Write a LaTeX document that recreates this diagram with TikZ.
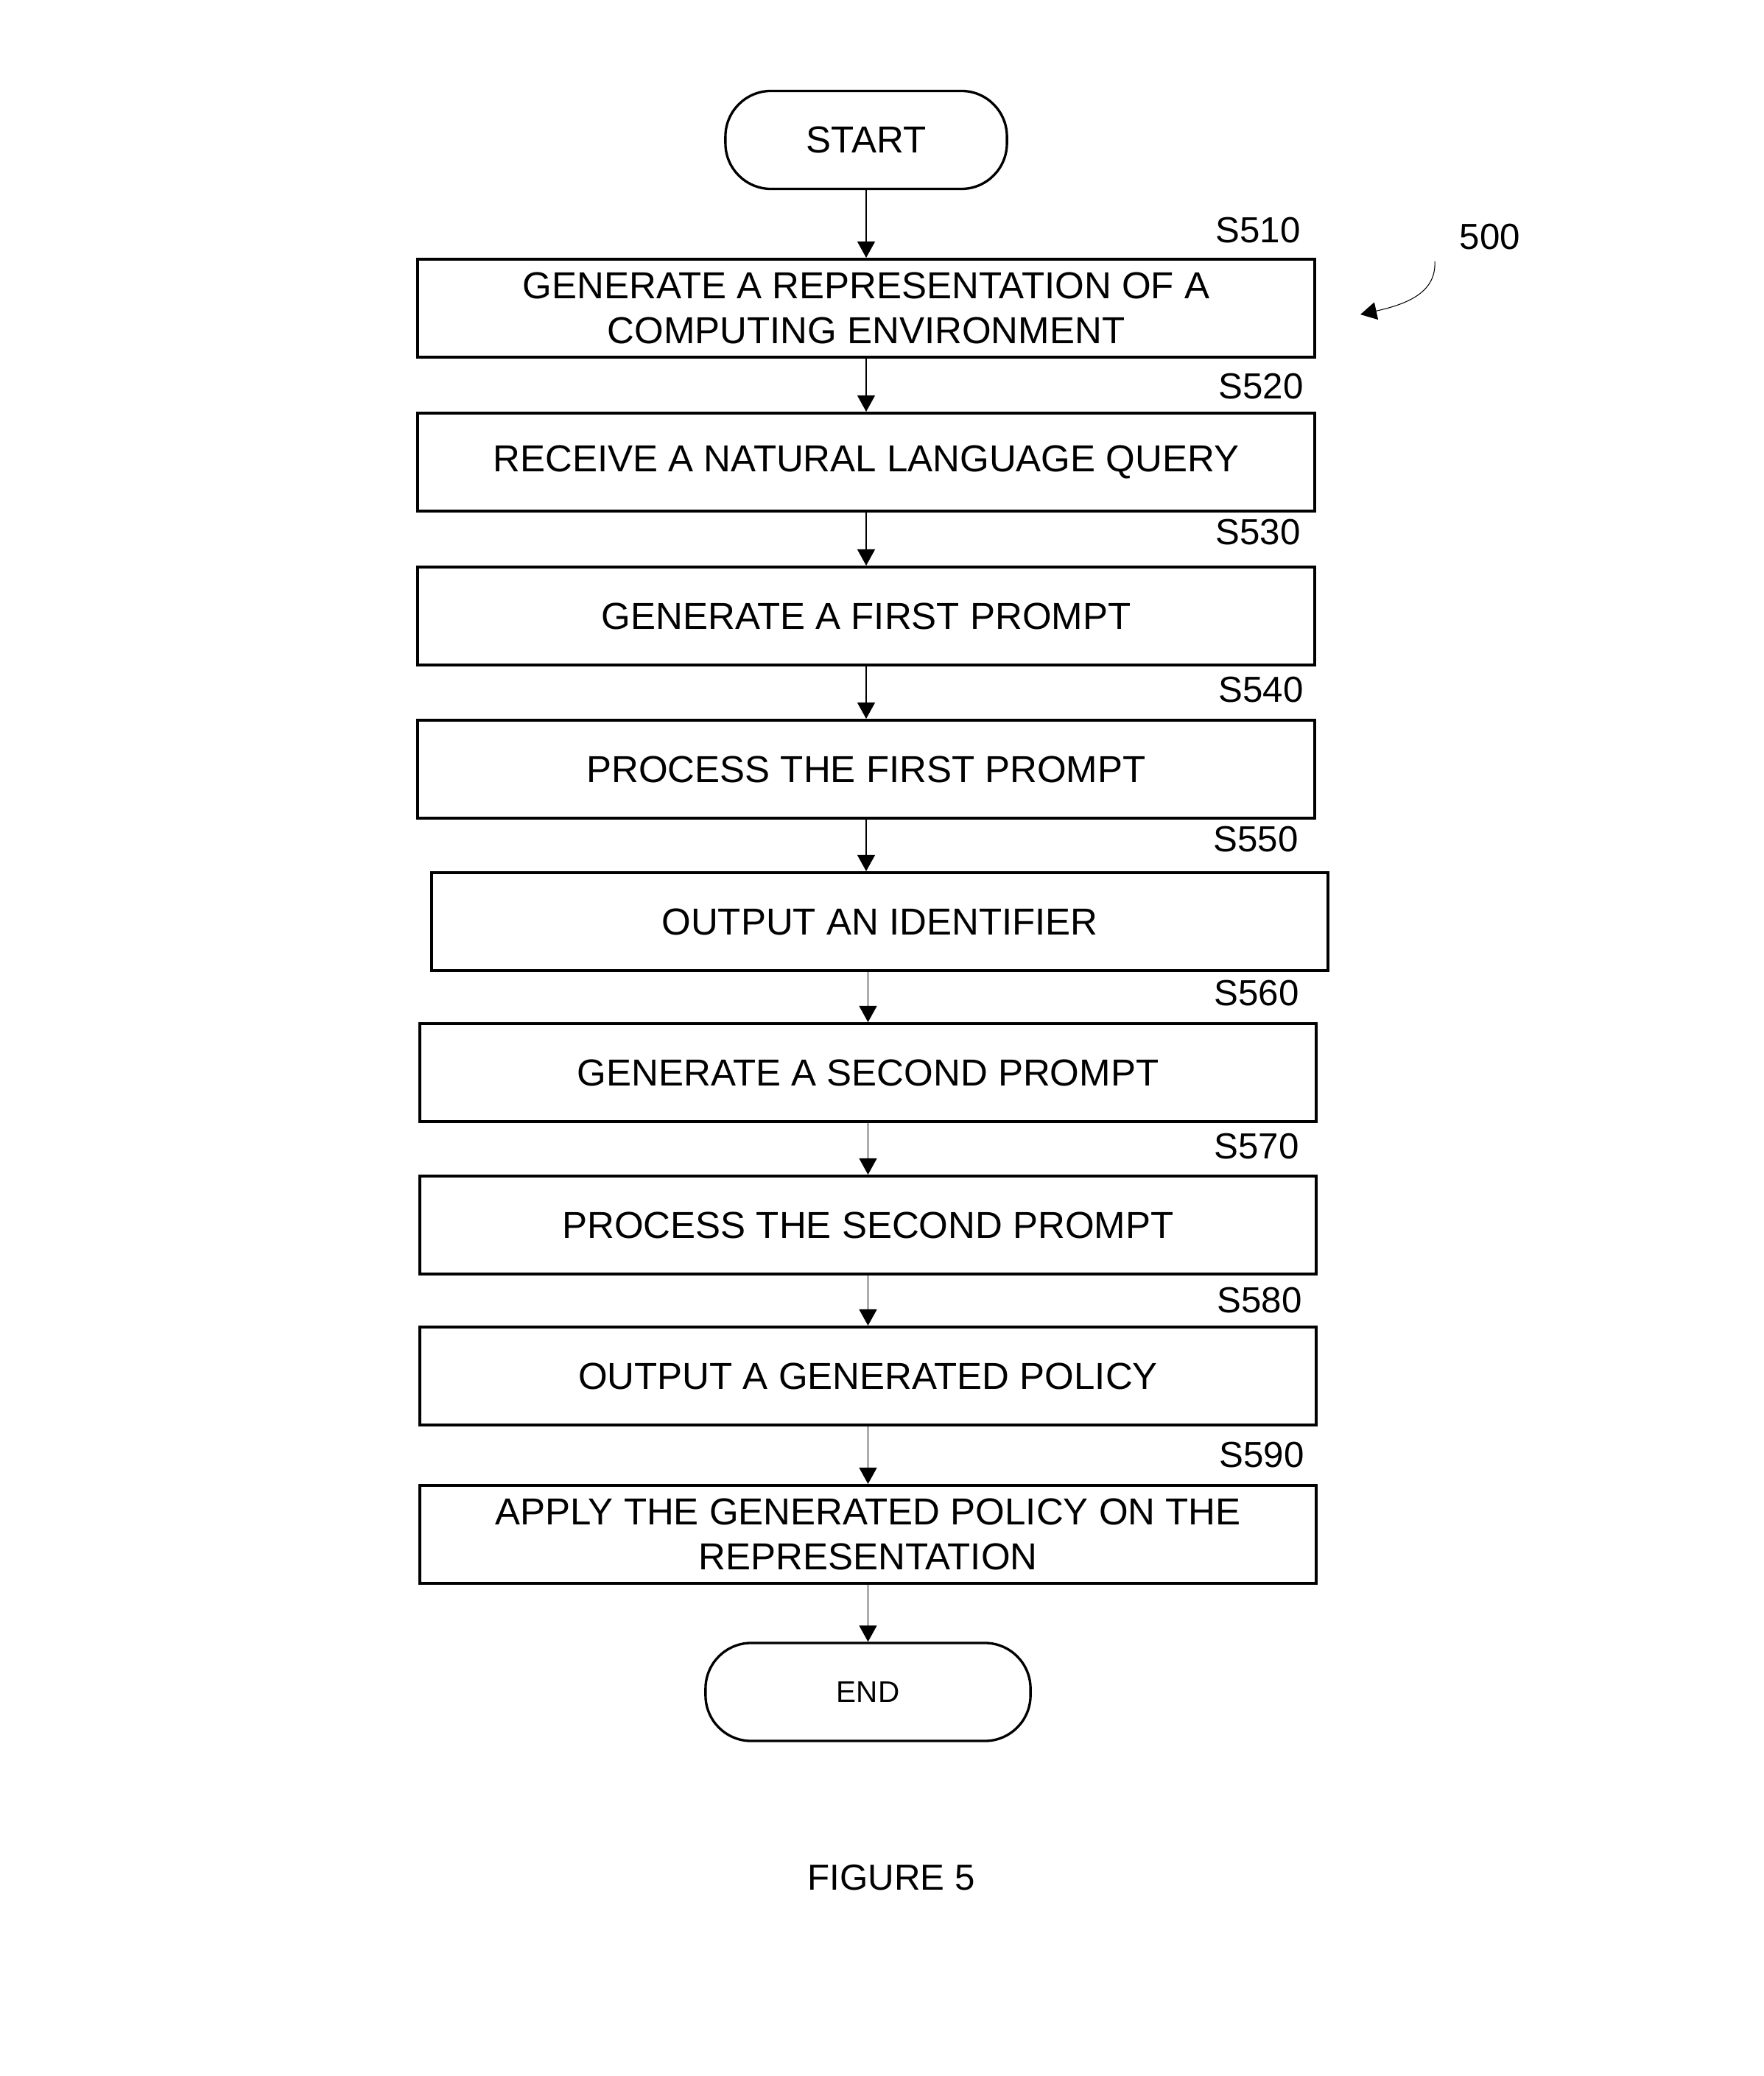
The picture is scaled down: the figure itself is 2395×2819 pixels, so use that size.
\documentclass[tikz,border=0pt]{standalone}
\usepackage{fontspec}
\setmainfont{Liberation Sans}
\usetikzlibrary{arrows.meta}
\begin{document}
\begin{tikzpicture}[x=0.01cm,y=-0.01cm,
  stepbox/.style={draw,line width=1.13pt,minimum width=12.17cm,minimum height=1.33cm,inner sep=0pt,align=center,font=\fontsize{14.5}{17.5}\selectfont},
  term/.style={draw,line width=0.95pt,rounded corners=0.62cm,minimum height=1.33cm,inner sep=0pt,font=\fontsize{14.5}{17}\selectfont},
  lbl/.style={inner sep=0pt,font=\fontsize{14}{17}\selectfont},
  arr/.style={line width=0.3pt,-{Triangle[length=0.22cm,width=0.24cm]}}]
\useasboundingbox (0,0) rectangle (2395,2819);
\node[term,minimum width=3.82cm] (start) at (1176,190) {START};
\node[stepbox] (b510) at (1176,418.5) {GENERATE A REPRESENTATION OF A\\COMPUTING ENVIRONMENT};
\node[stepbox] (b520) at (1176,627.5) {RECEIVE A NATURAL LANGUAGE QUERY};
\node[stepbox] (b530) at (1176,836.5) {GENERATE A FIRST PROMPT};
\node[stepbox] (b540) at (1176,1044.5) {PROCESS THE FIRST PROMPT};
\node[stepbox] (b550) at (1194.5,1251.5) {OUTPUT AN IDENTIFIER};
\node[stepbox] (b560) at (1178.5,1456.5) {GENERATE A SECOND PROMPT};
\node[stepbox] (b570) at (1178.5,1663.5) {PROCESS THE SECOND PROMPT};
\node[stepbox] (b580) at (1178.5,1868.5) {OUTPUT A GENERATED POLICY};
\node[stepbox] (b590) at (1178.5,2083.5) {APPLY THE GENERATED POLICY ON THE\\REPRESENTATION};
\node[term,minimum width=4.41cm,font=\fontsize{11.5}{14}\selectfont] (end) at (1178.5,2297.5) {END};

\node[lbl] (l510) at (1708,313) {S510};
\node[lbl] (l520) at (1712,525) {S520};
\node[lbl] (l530) at (1708,723) {S530};
\node[lbl] (l540) at (1712,937) {S540};
\node[lbl] (l550) at (1705,1140) {S550};
\node[lbl] (l560) at (1706,1349) {S560};
\node[lbl] (l570) at (1706,1557) {S570};
\node[lbl] (l580) at (1710,1766) {S580};
\node[lbl] (l590) at (1713,1976) {S590};
\node[lbl] (n500) at (2023,322) {500};
\node[lbl] (fig) at (1210,2550) {FIGURE 5};

\draw[arr] (start.south) -- (start.south |- b510.north);
\draw[arr] (b510.south) -- (b510.south |- b520.north);
\draw[arr] (b520.south) -- (b520.south |- b530.north);
\draw[arr] (b530.south) -- (b530.south |- b540.north);
\draw[arr] (b540.south) -- (b540.south |- b550.north);
\draw[arr] (b550.south -| b560.north) -- (b560.north);
\draw[arr] (b560.south) -- (b560.south |- b570.north);
\draw[arr] (b570.south) -- (b570.south |- b580.north);
\draw[arr] (b580.south) -- (b580.south |- b590.north);
\draw[arr] (b590.south) -- (b590.south |- end.north);

\coordinate (c500a) at (1948,355);
\coordinate (c500b) at (1847,427);
\draw[arr] (c500a) .. controls (1950,395) and (1915,412) .. (c500b);
\end{tikzpicture}
\end{document}
